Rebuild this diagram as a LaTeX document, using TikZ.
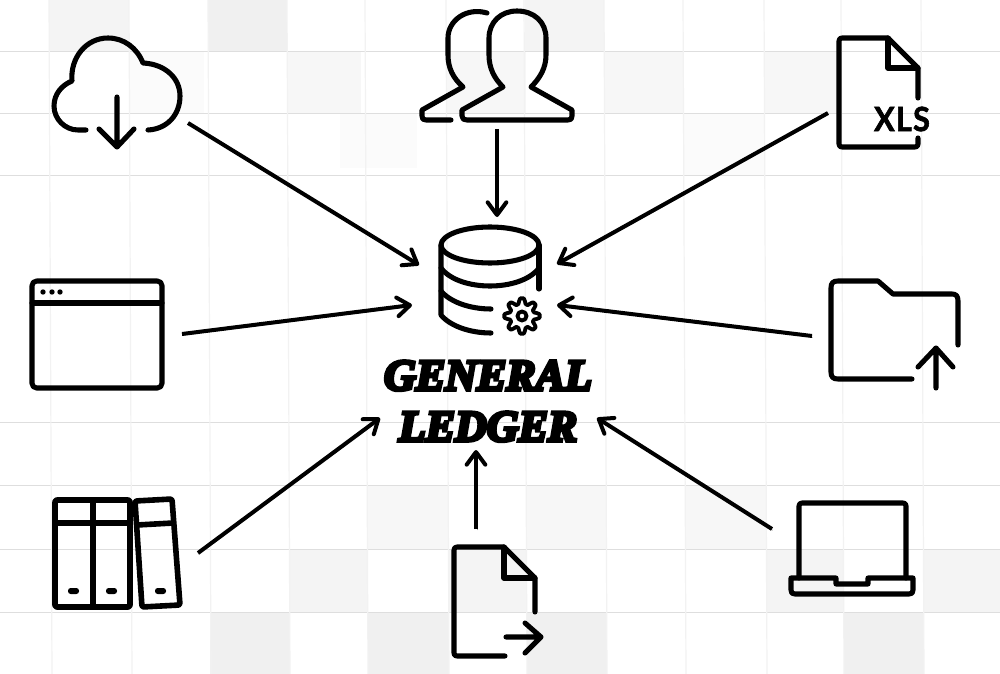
\documentclass[tikz,border=0pt]{standalone}
\usepackage{fontspec}
\usetikzlibrary{arrows.meta}
\newfontfamily\ttlfont[BoldItalicFeatures={FakeBold=8}]{Liberation Serif}
\newfontfamily\xlsfont[BoldFeatures={FakeBold=2,LetterSpace=4}]{Lato}
\definecolor{gA}{gray}{0.94}
\definecolor{gB}{gray}{0.955}
\definecolor{gC}{gray}{0.97}
\definecolor{gD}{gray}{0.985}
\tikzset{
  x=0.75pt,y=-0.75pt,
  gridh/.style={draw=black!13,line width=0.75pt},
  gridv/.style={draw=black!5,line width=0.9pt},
  icon/.style={draw=black,line width=3.8pt,line cap=round,line join=round},
  thinicon/.style={draw=black,line width=2.9pt,line cap=round,line join=round},
  conn/.style={draw=black,line width=3pt,
    -{Straight Barb[length=9.5pt,width=14pt,round]},
    preaction={draw=black!35,transform canvas={shift={(0.6pt,-1pt)}}}},
  pill/.style={fill=black,rounded corners=2pt}
}
\begin{document}
\begin{tikzpicture}
\useasboundingbox (0,0) rectangle (1000,674);
\fill[white] (0,0) rectangle (1000,674);
% shaded cells
\foreach \a/\b/\c/\d/\k in {
  49/0/129/52/gB, 208/0/287/52/gA, 525/0/604/52/gB,
  130/52/204/114/gD, 288/52/361/114/gC, 447/52/526/114/gC, 605/52/684/114/gC, 765/52/842/114/gC,
  340/114/417/168/gD, 684/114/765/175/gD,
  368/485/448/549/gC, 527/485/606/549/gC, 686/485/766/549/gC,
  290/549/368/612/gB, 449/549/527/612/gB, 767/549/844/612/gB, 924/549/1000/612/gB,
  210/612/290/674/gA, 368/612/449/674/gA, 527/612/607/674/gA, 844/612/924/674/gA}
  \fill[\k] (\a,\b) rectangle (\c,\d);
% grid
\foreach \yy in {52,114,175,422,485,549,612}
  \draw[gridh] (0,\yy) -- (1000,\yy);
\foreach \xx in {49,129,208,287,365,446,524,604,683,764,841,921}
  \draw[gridv] (\xx,0) -- ({\xx+3},674);

% cloud
\draw[icon] (86,130) -- (78,130) .. controls (65,130) and (54,119) .. (54,106)
  .. controls (54,94) and (62,85) .. (72,81)
  .. controls (70,58) and (86,38) .. (108,38)
  .. controls (124,38) and (137,48) .. (143,63)
  .. controls (165,64) and (180,78) .. (180,96)
  .. controls (180,115) and (167,129) .. (148,130);
\draw[icon] (117,97) -- (117,147) (99,129) -- (117,147) -- (134,129);

% users
\draw[icon] (503,87) .. controls (494,78) and (489,68) .. (489,55) -- (489,38)
  .. controls (489,22) and (501,11) .. (517,11)
  .. controls (534,11) and (546,22) .. (546,38) -- (546,55)
  .. controls (546,68) and (540,78) .. (531,87)
  -- (572,110) -- (572,116) .. controls (572,119) and (571,120) .. (568,120)
  -- (467,120) .. controls (464,120) and (462,119) .. (462,116) -- (462,110) -- cycle;
\draw[icon] (487,13) .. controls (467,7) and (448,20) .. (448,38) -- (448,55)
  .. controls (448,68) and (453,78) .. (463,87)
  -- (422,110) -- (422,116) .. controls (422,119) and (423,120) .. (426,120) -- (451,120);

% xls file
\draw[icon] (918,98) -- (918,68) -- (888,38) -- (842,38) .. controls (840,38) and (839,39) .. (839,41)
  -- (839,144) .. controls (839,146) and (840,147) .. (842,147) -- (915,147)
  .. controls (917,147) and (918,146) .. (918,144) -- (918,138);
\draw[icon] (888,38) -- (888,68) -- (918,68);
\node[font=\xlsfont\bfseries\fontsize{25pt}{25pt}\selectfont,inner sep=0pt,xscale=0.92] (xls) at (902,119) {XLS};

% window
\draw[icon,rounded corners=3.5pt] (32,281) rectangle (162,388);
\draw[icon] (32,303) -- (162,303);
\foreach \xx/\nm in {43/da,52/db,60/dc}
  \fill (\xx,292) circle (2pt);

% folder
\draw[icon] (958,345) -- (958,301) .. controls (958,296) and (956,294) .. (952,294) -- (893,294)
  -- (878,281) -- (838,281) .. controls (833,281) and (831,283) .. (831,288)
  -- (831,372) .. controls (831,377) and (833,379) .. (838,379) -- (912,379);
\draw[icon] (936,388) -- (936,348) (918,367) -- (936,348) -- (953,367);

% binders
\draw[icon,line width=4.2pt,rounded corners=1.5pt] (55,500) rectangle (130,607);
\draw[icon,line width=4.2pt] (93,500) -- (93,607) (55,523) -- (130,523);
\draw[icon,line width=4.2pt,rounded corners=1.5pt] (135,501) -- (172,499) -- (180,605) -- (142,607) -- cycle;
\draw[icon,line width=4.2pt] (137,525) -- (173,523);
\fill[pill] (68,588) rectangle (79,594);
\fill[pill] (106,588) rectangle (117,594);
\fill[pill] (155,588) rectangle (166,594);

% output file
\draw[icon] (535,612) -- (535,578) -- (504,547) -- (457,547) .. controls (455,547) and (454,548) .. (454,550)
  -- (454,653) .. controls (454,655) and (455,656) .. (457,656) -- (505,656);
\draw[icon] (504,547) -- (504,578) -- (535,578);
\draw[icon] (506,637) -- (541,637) (525,623) -- (541,637) -- (525,653);

% laptop
\draw[icon] (799,578) -- (799,506) .. controls (799,504) and (800,503) .. (802,503) -- (903,503)
  .. controls (905,503) and (906,504) .. (906,506) -- (906,578);
\draw[icon] (791,578) -- (836,578) -- (836,584) -- (868,584) -- (868,578) -- (913,578)
  -- (913,590) .. controls (913,593) and (912,594) .. (909,594) -- (795,594)
  .. controls (792,594) and (791,593) .. (791,590) -- cycle;

% database
\draw[icon] (490,245) ellipse (49 and 18);
\draw[icon] (441,245) -- (441,315) .. controls (450,326) and (470,333) .. (491,333);
\draw[icon] (539,245) -- (539,289);
\draw[icon] (441,268) .. controls (450,280) and (470,286) .. (490,286)
  .. controls (510,286) and (530,280) .. (539,268);
\draw[icon] (441,291) .. controls (450,302) and (470,309) .. (491,309);
% gear
\draw[thinicon,domain=0:360,samples=145,smooth]
  plot ({522+(15+3*max(-0.75,min(0.75,cos(8*\x)))*1.2)*cos(\x+0)},{316+(15+3*max(-0.75,min(0.75,cos(8*\x)))*1.2)*sin(\x+0)}) -- cycle;
\draw[thinicon] (522,316) circle (4.5);

% title
\node[font=\ttlfont\bfseries\itshape\fontsize{33pt}{39pt}\selectfont,inner sep=0pt,anchor=base] (general) at (488,390) {GENERAL};
\node[font=\ttlfont\bfseries\itshape\fontsize{33pt}{39pt}\selectfont,inner sep=0pt,anchor=base] (ledger) at (488,441) {LEDGER};

% connectors
\coordinate (cloudOut) at (188,123);
\coordinate (dbA) at (419,265);
\coordinate (usersOut) at (497,129);
\coordinate (dbB) at (497,217);
\coordinate (xlsOut) at (828,113);
\coordinate (dbC) at (557,264);
\coordinate (windowOut) at (182,334);
\coordinate (dbD) at (412,305);
\coordinate (folderOut) at (812,336);
\coordinate (dbE) at (557,305);
\coordinate (bindersOut) at (198,553);
\coordinate (ledgerA) at (380,418);
\coordinate (fileOut) at (476,529);
\coordinate (ledgerB) at (476,450);
\coordinate (laptopOut) at (772,529);
\coordinate (ledgerC) at (597,418);
\foreach \s/\t in {cloudOut/dbA,usersOut/dbB,xlsOut/dbC,windowOut/dbD,folderOut/dbE,bindersOut/ledgerA,fileOut/ledgerB,laptopOut/ledgerC}
  \draw[conn] (\s) -- (\t);
\end{tikzpicture}
\end{document}
